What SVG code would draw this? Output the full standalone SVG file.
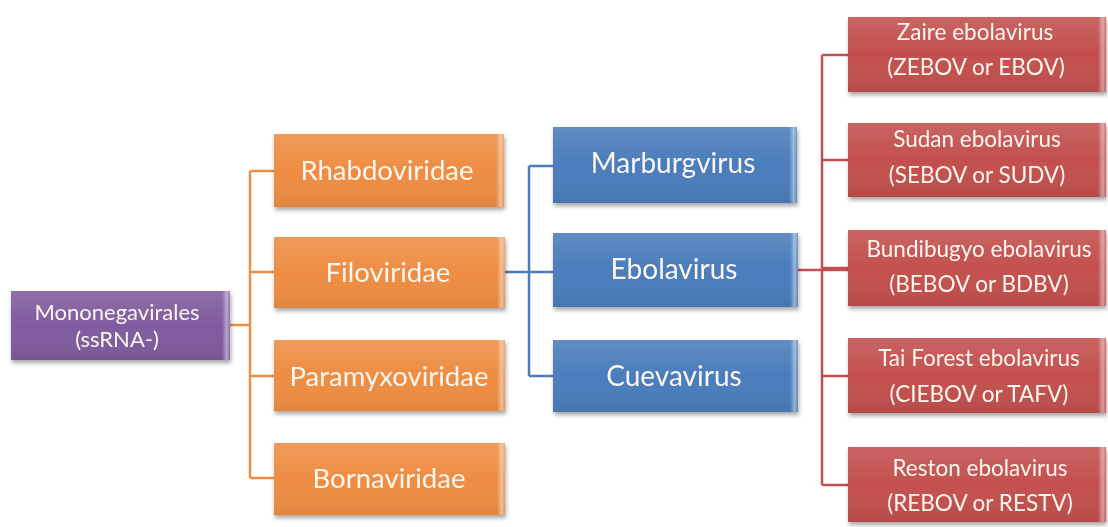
<svg xmlns="http://www.w3.org/2000/svg" width="1108" height="527" viewBox="0 0 1108 527">
<defs>
<filter id="sh" x="-10%" y="-20%" width="125%" height="150%">
<feDropShadow dx="1" dy="3" stdDeviation="2" flood-color="#000" flood-opacity="0.35"/>
</filter>
<linearGradient id="bev" x1="0" y1="0" x2="1" y2="0">
<stop offset="0" stop-color="#fff" stop-opacity="0"/>
<stop offset="0.6" stop-color="#fff" stop-opacity="0.45"/>
<stop offset="1" stop-color="#fff" stop-opacity="0.1"/>
</linearGradient>
<linearGradient id="top" x1="0" y1="0" x2="0" y2="1">
<stop offset="0" stop-color="#fff" stop-opacity="0.12"/>
<stop offset="0.5" stop-color="#fff" stop-opacity="0"/>
<stop offset="1" stop-color="#000" stop-opacity="0.06"/>
</linearGradient>
</defs>
<style>
.t{font-family:"Lato","Open Sans","Liberation Sans",sans-serif;fill:#fbf6ee;text-anchor:middle}
.big{font-size:27.5px}
.bb{font-size:28px}
.mid{font-size:22px}
.sm{font-size:22.5px}
.pu{fill:#7f5c9e}
.or{fill:#ee8d43}
.bl{fill:#4a7dbb}
.rd{fill:#c2504e}
.conn path{fill:none;stroke-width:2.5}
.co{stroke:#ee8d43}
.cb{stroke:#4a7dbb}
.cr{stroke:#c2504e}
</style>
<rect width="1108" height="527" fill="#fff"/>
<g class="conn">
<path class="co" d="M230 325H250M250 171V478M250 171H274M250 272H274M250 376H274M250 478H274"/>
<path class="cb" d="M505 272H553M529 166V376M529 166H553M529 272H553M529 376H553"/>
<path class="cr" d="M798 270H848M822 55V485M822 55H848M822 160H848M822 268H848M822 376H848M822 485H848"/>
</g>
<g id="n-mono" filter="url(#sh)">
<rect class="pu" x="11" y="291" width="219" height="69"/>
<rect x="11" y="291" width="219" height="69" fill="url(#top)"/>
<rect x="222" y="291" width="8" height="69" fill="url(#bev)"/>
<text class="t mid" x="117" y="320">Mononegavirales</text>
<text class="t mid" x="117" y="347">(ssRNA-)</text>
</g>
<g id="n-rhabdo" filter="url(#sh)">
<rect class="or" x="274" y="134" width="230" height="73"/>
<rect x="274" y="134" width="230" height="73" fill="url(#top)"/>
<rect x="496" y="134" width="8" height="73" fill="url(#bev)"/>
<text class="t big" x="387" y="180">Rhabdoviridae</text>
</g>
<g id="n-filo" filter="url(#sh)">
<rect class="or" x="274" y="237" width="231" height="71"/>
<rect x="274" y="237" width="231" height="71" fill="url(#top)"/>
<rect x="497" y="237" width="8" height="71" fill="url(#bev)"/>
<text class="t big" x="388" y="282">Filoviridae</text>
</g>
<g id="n-paramyxo" filter="url(#sh)">
<rect class="or" x="274" y="340" width="231" height="71"/>
<rect x="274" y="340" width="231" height="71" fill="url(#top)"/>
<rect x="497" y="340" width="8" height="71" fill="url(#bev)"/>
<text class="t big" x="389" y="386">Paramyxoviridae</text>
</g>
<g id="n-borna" filter="url(#sh)">
<rect class="or" x="274" y="443" width="231" height="72"/>
<rect x="274" y="443" width="231" height="72" fill="url(#top)"/>
<rect x="497" y="443" width="8" height="72" fill="url(#bev)"/>
<text class="t big" x="389" y="488">Bornaviridae</text>
</g>
<g id="n-marburg" filter="url(#sh)">
<rect class="bl" x="553" y="127" width="244" height="76"/>
<rect x="553" y="127" width="244" height="76" fill="url(#top)"/>
<rect x="789" y="127" width="8" height="76" fill="url(#bev)"/>
<text class="t bb" x="673" y="173">Marburgvirus</text>
</g>
<g id="n-ebola" filter="url(#sh)">
<rect class="bl" x="553" y="233" width="245" height="74"/>
<rect x="553" y="233" width="245" height="74" fill="url(#top)"/>
<rect x="790" y="233" width="8" height="74" fill="url(#bev)"/>
<text class="t bb" x="674" y="279">Ebolavirus</text>
</g>
<g id="n-cueva" filter="url(#sh)">
<rect class="bl" x="553" y="340" width="245" height="72"/>
<rect x="553" y="340" width="245" height="72" fill="url(#top)"/>
<rect x="790" y="340" width="8" height="72" fill="url(#bev)"/>
<text class="t bb" x="674" y="386">Cuevavirus</text>
</g>
<g id="n-zaire" filter="url(#sh)">
<rect class="rd" x="848" y="17" width="258" height="75"/>
<rect x="848" y="17" width="258" height="75" fill="url(#top)"/>
<rect x="1098" y="17" width="8" height="75" fill="url(#bev)"/>
<text class="t sm" x="975" y="40">Zaire ebolavirus</text>
<text class="t sm" x="976" y="75">(ZEBOV or EBOV)</text>
</g>
<g id="n-sudan" filter="url(#sh)">
<rect class="rd" x="848" y="123" width="258" height="74"/>
<rect x="848" y="123" width="258" height="74" fill="url(#top)"/>
<rect x="1098" y="123" width="8" height="74" fill="url(#bev)"/>
<text class="t sm" x="977" y="147">Sudan ebolavirus</text>
<text class="t sm" x="977" y="183">(SEBOV or SUDV)</text>
</g>
<g id="n-bundi" filter="url(#sh)">
<rect class="rd" x="848" y="230" width="258" height="76"/>
<rect x="848" y="230" width="258" height="76" fill="url(#top)"/>
<rect x="1098" y="230" width="8" height="76" fill="url(#bev)"/>
<text class="t sm" x="979" y="257">Bundibugyo ebolavirus</text>
<text class="t sm" x="979" y="292">(BEBOV or BDBV)</text>
</g>
<g id="n-tai" filter="url(#sh)">
<rect class="rd" x="848" y="338" width="258" height="75"/>
<rect x="848" y="338" width="258" height="75" fill="url(#top)"/>
<rect x="1098" y="338" width="8" height="75" fill="url(#bev)"/>
<text class="t sm" x="979" y="366">Tai Forest ebolavirus</text>
<text class="t sm" x="979" y="402">(CIEBOV or TAFV)</text>
</g>
<g id="n-reston" filter="url(#sh)">
<rect class="rd" x="848" y="447" width="258" height="75"/>
<rect x="848" y="447" width="258" height="75" fill="url(#top)"/>
<rect x="1098" y="447" width="8" height="75" fill="url(#bev)"/>
<text class="t sm" x="980" y="476">Reston ebolavirus</text>
<text class="t sm" x="980" y="511">(REBOV or RESTV)</text>
</g>
</svg>
